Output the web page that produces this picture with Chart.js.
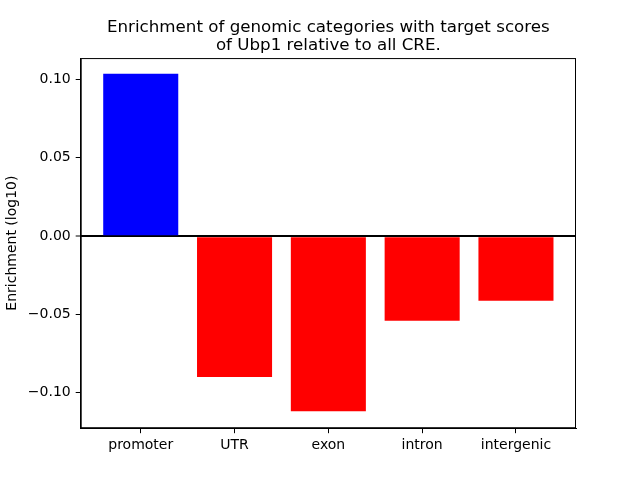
<!DOCTYPE html>
<html>
<head>
<meta charset="utf-8">
<script src="https://cdn.jsdelivr.net/npm/chart.js@4/dist/chart.umd.min.js"></script>
<style>
  html, body { margin: 0; padding: 0; background: white; }
  #wrap { width: 640px; height: 480px; }
</style>
</head>
<body>
<div id="wrap"><canvas id="enrichChart" width="640" height="480"></canvas></div>
<script>
// Chart data
const categories = ["promoter", "UTR", "exon", "intron", "intergenic"];
const enrichment = [0.1037, -0.0899, -0.1117, -0.0540, -0.0412];
const yTicks = [-0.10, -0.05, 0.00, 0.05, 0.10];
const titleLines = ["Enrichment of genomic categories with target scores", "of Ubp1 relative to all CRE."];

Chart.defaults.font.family = "DejaVu Sans";
Chart.defaults.color = "black";

// Draw the box around the plot area (matplotlib style)
const frameBox = {
	id: "frameBox",
	afterDraw: function (chart) {
		const ctx = chart.ctx;
		const area = chart.chartArea;
		ctx.save();
		ctx.strokeStyle = "black";
		ctx.lineWidth = 1;
		ctx.strokeRect(area.left + 0.5, area.top + 0.5, area.right - area.left - 1, area.bottom - area.top - 1);
		ctx.restore();
	},
};

const enrichChart = new Chart(document.getElementById("enrichChart").getContext("2d"), {
	type: "bar",
	data: {
		datasets: [
			{
				data: enrichment.map((v, i) => ({ x: i, y: v })),
				backgroundColor: enrichment.map((v) => (v >= 0 ? "#0000ff" : "#ff0000")),
				borderWidth: 0,
				categoryPercentage: 1.0,
				barPercentage: 0.8,
			},
		],
	},
	options: {
		responsive: false,
		animation: false,
		layout: {
			padding: { left: 4, right: 64, top: 0, bottom: 22 },
		},
		plugins: {
			legend: { display: false },
			tooltip: { enabled: false },
			title: {
				display: true,
				text: titleLines,
				fullSize: false,
				color: "black",
				font: { size: 16.7, weight: "normal", lineHeight: 1.05 },
				padding: { top: 19, bottom: 4 },
			},
		},
		scales: {
			x: {
				type: "linear",
				min: -0.64,
				max: 4.64,
				offset: false,
				afterBuildTicks: function (scale) {
					scale.ticks = categories.map((c, i) => ({ value: i }));
				},
				ticks: {
					padding: 4,
					font: { size: 14 },
					color: "black",
					maxRotation: 0,
					autoSkip: false,
					callback: function (value) {
						return categories[value];
					},
				},
				grid: {
					offset: false,
					drawOnChartArea: false,
					tickLength: 5,
					tickColor: "black",
				},
				border: { color: "black", width: 1 },
			},
			y: {
				min: -0.1226,
				max: 0.1137,
				z: 1,
				afterBuildTicks: function (scale) {
					scale.ticks = yTicks.map((v) => ({ value: v }));
				},
				ticks: {
					padding: 5,
					font: { size: 14 },
					color: "black",
					callback: function (value) {
						return value.toFixed(2).replace("-", "\u2212");
					},
				},
				grid: {
					color: function (ctx) {
						return ctx.tick && Math.abs(ctx.tick.value) < 1e-9 ? "black" : "rgba(0,0,0,0)";
					},
					lineWidth: function (ctx) {
						return ctx.tick && Math.abs(ctx.tick.value) < 1e-9 ? 2 : 1;
					},
					tickLength: 5,
					tickColor: "black",
					tickWidth: 1,
				},
				border: { color: "black", width: 1 },
				title: {
					display: true,
					text: "Enrichment (log10)",
					color: "black",
					font: { size: 14 },
					padding: { top: 0, bottom: 2 },
				},
			},
		},
	},
	plugins: [frameBox],
});
</script>
</body>
</html>
